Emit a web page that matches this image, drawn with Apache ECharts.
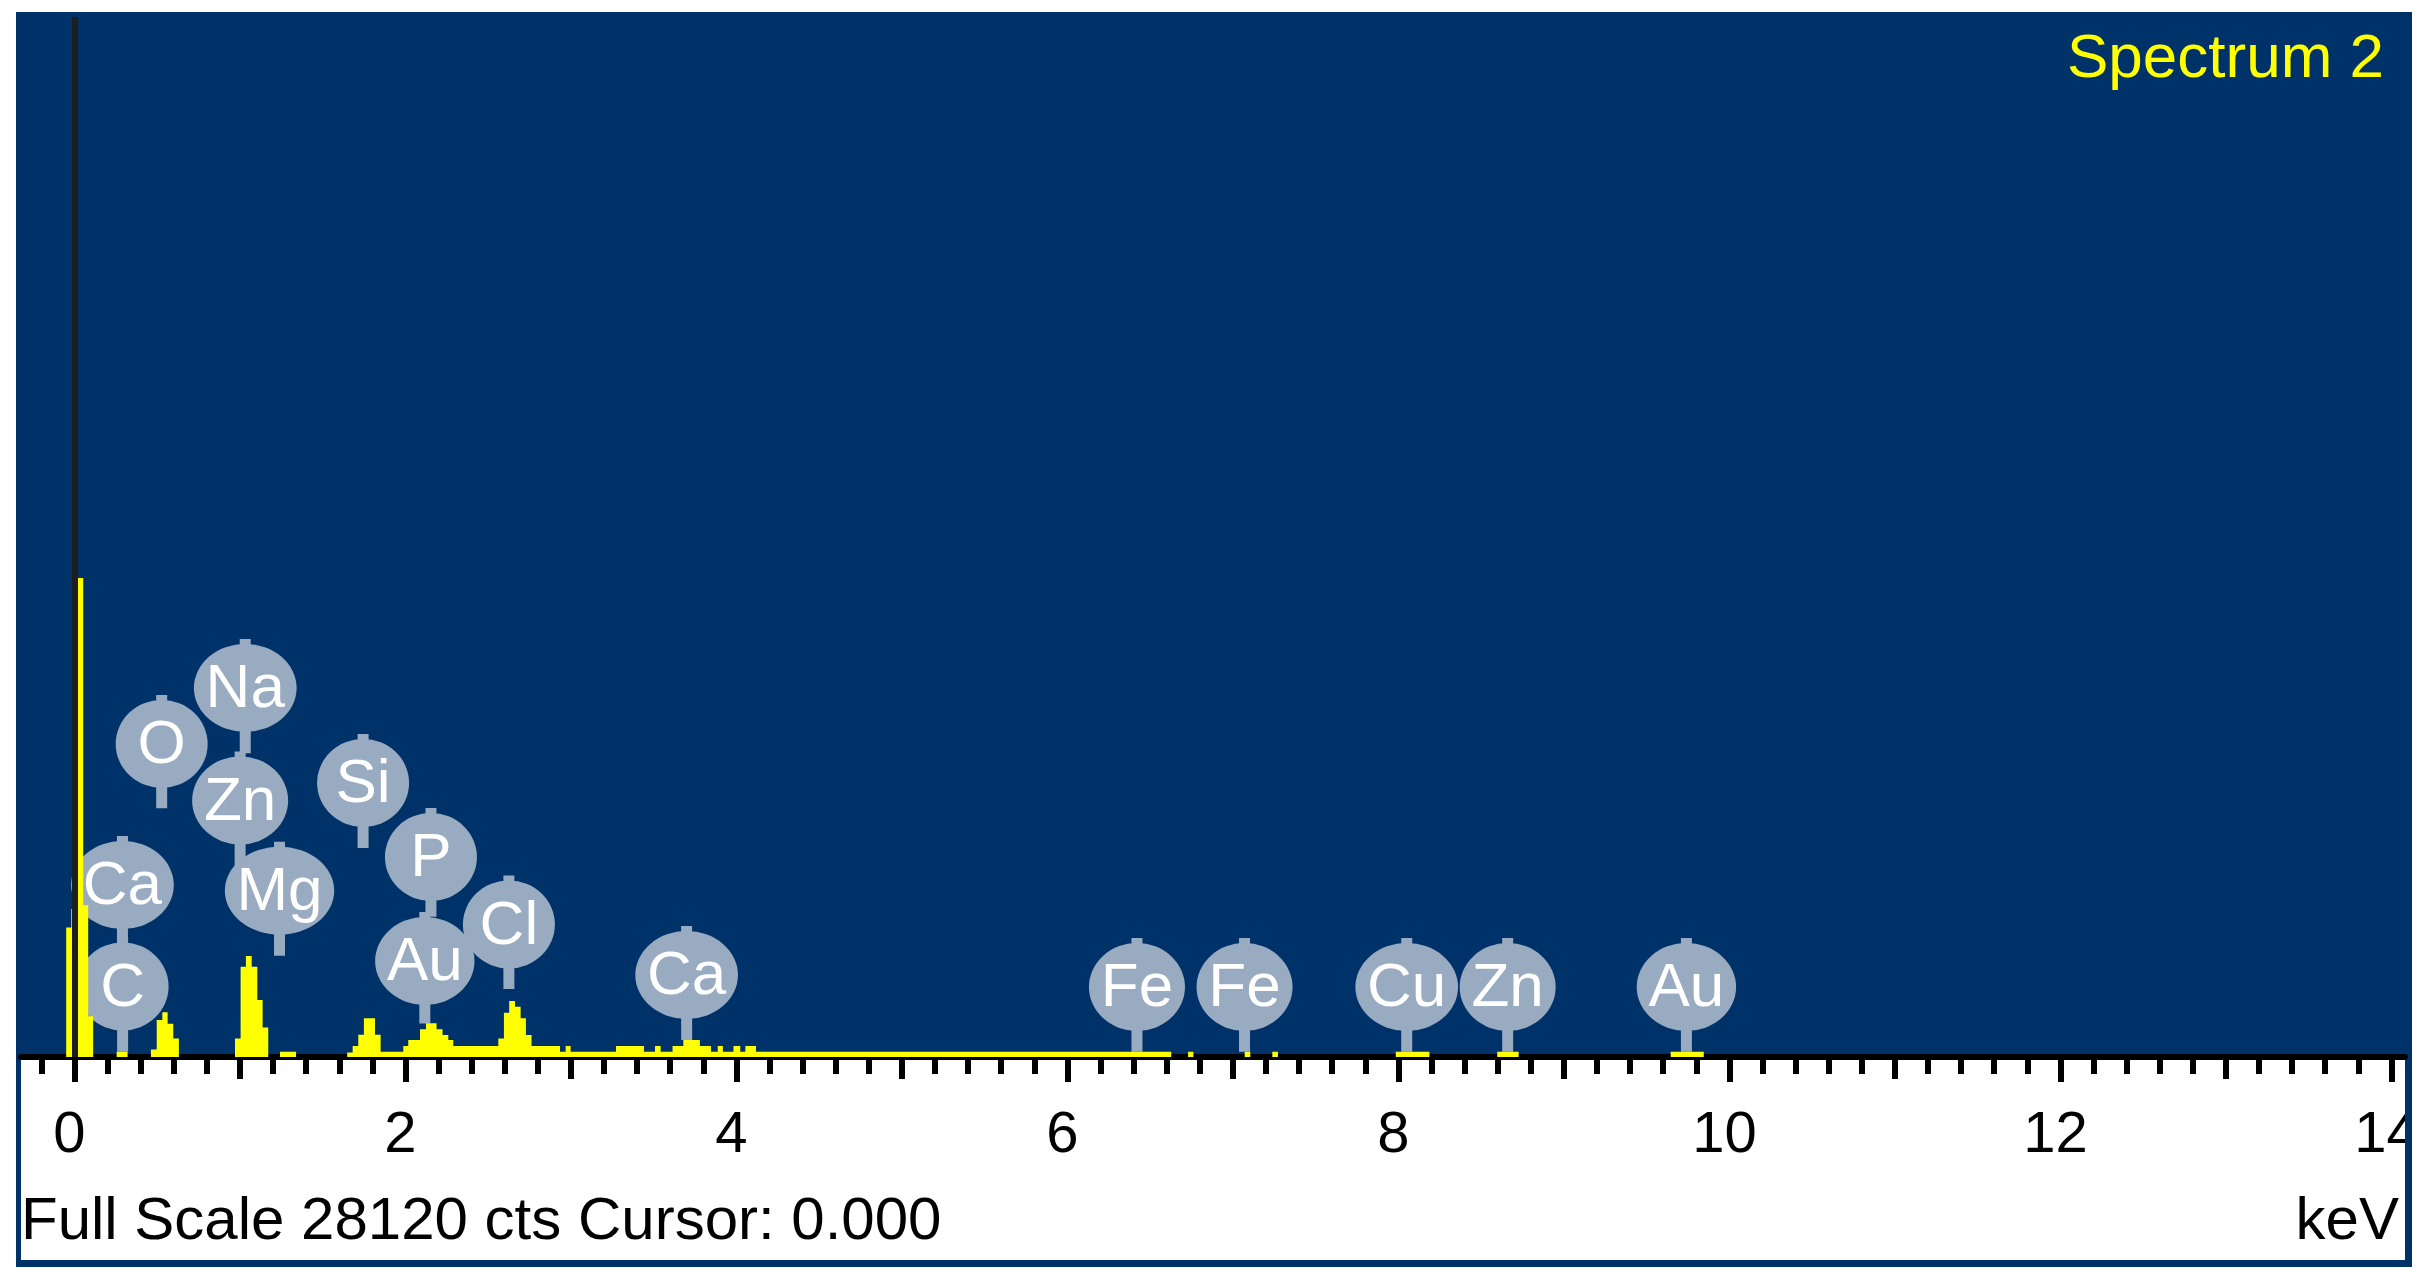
<!DOCTYPE html>
<html>
<head>
<meta charset="utf-8">
<title>Spectrum 2</title>
<script src="https://cdn.jsdelivr.net/npm/echarts@6/dist/echarts.min.js"></script>
<style>
    html, body { margin: 0; padding: 0; background: #fff; }
    #main { width: 2432px; height: 1281px; }
</style>
</head>
<body>
<div id="main"></div>
<script>
    // spectrum bins: edges in keV, counts per bin (one less than edges)
    const edges = [-0.323, -0.05, -0.019, 0.02, 0.053, 0.083, 0.113, 0.255, 0.321, 0.462,
        0.497, 0.531, 0.563, 0.597, 0.631, 0.970, 1.004, 1.036, 1.071, 1.105,
        1.137, 1.171, 1.242, 1.339, 1.648, 1.681, 1.715, 1.749, 1.816, 1.850,
        1.987, 2.017, 2.088, 2.124, 2.188, 2.224, 2.259, 2.289, 2.561, 2.595,
        2.627, 2.662, 2.696, 2.728, 2.762, 2.934, 2.968, 2.998, 3.272, 3.441,
        3.508, 3.542, 3.614, 3.679, 3.779, 3.846, 3.887, 3.918, 3.982, 4.023,
        4.054, 4.118, 6.627, 6.729, 6.761, 7.071, 7.105, 7.238, 7.272, 7.984,
        8.187, 8.597, 8.726, 9.645, 9.845, 14.082]
    const counts = [0, 3500, 4000, 12950, 4100, 1100, 0, 143, 0, 200,
        1000, 1210, 900, 500, 0, 500, 2440, 2730, 2440, 1540,
        800, 0, 143, 0, 120, 300, 600, 1046, 600, 143,
        297, 460, 749, 911, 749, 595, 460, 297, 500, 1199,
        1514, 1361, 1046, 595, 297, 143, 297, 143, 297, 143,
        297, 143, 297, 460, 297, 143, 297, 143, 297, 143,
        297, 143, 0, 143, 0, 143, 0, 143, 0, 143,
        0, 143, 0, 143, 0]

    // element markers
    const labelNames = ['Na', 'O', 'Zn', 'Si', 'P', 'Ca', 'Mg', 'Cl', 'Au', 'C', 'Ca', 'Fe', 'Fe', 'Cu', 'Zn', 'Au']
    const labelKeV = [1.032, 0.527, 1.001, 1.744, 2.154, 0.29, 1.239, 2.625, 2.117, 0.291, 3.699, 6.42, 7.07, 8.05, 8.66, 9.74]
    const labelLevel = [9978, 8464, 6936, 7409, 5408, 4651, 4497, 3583, 2596, 1906, 2217, 1893, 1893, 1893, 1893, 1893]
    const labelStemEnd = [8215, 6725, 5056, 5651, 3791, 3028, 2739, 1839, 903, 143, 460, 143, 143, 143, 143, 143]

    // axis ticks / labels
    const majorTicks = [0, 2, 4, 6, 8, 10, 12, 14]
    const midTicks = [1, 3, 5, 7, 9, 11, 13]
    const minorTicks = []
    for (let k = -1; k <= 70; k++) {
        if (k % 5 !== 0) minorTicks.push(+(k * 0.2).toFixed(1))
    }

    const fullScale = 28120
    const xMin = -0.323
    const xMax = 14.082

    const blue = '#00326a'
    const balloon = '#98abc0'
    const font = '"Liberation Sans", Arial, sans-serif'

    let spectrum = edges.slice(0, -1).map((e, i) => [e, counts[i]])
    spectrum.push([edges[edges.length - 1], 0])

    let markers = labelKeV.map((k, i) => [k, labelLevel[i], labelStemEnd[i]])

    // text width for balloon size
    let ctx = document.createElement('canvas').getContext('2d')
    ctx.font = '60px ' + font
    function textW(t) { return ctx.measureText(t).width }

    function tickAxis(values, len, withLabel) {
        return {
            type: 'value',
            min: xMin,
            max: xMax,
            position: 'bottom',
            offset: 3,
            axisLine: { show: withLabel, lineStyle: { color: '#000', width: 6 } },
            axisTick: { show: true, customValues: values, length: len, lineStyle: { color: '#000', width: 6 } },
            axisLabel: {
                show: withLabel,
                customValues: values,
                formatter: v => String(v),
                color: '#000',
                fontFamily: font,
                fontSize: 58,
                margin: 76,
                verticalAlign: 'middle',
                padding: [0, 10, 0, 0]
            },
            splitLine: { show: false }
        }
    }

    let myChart = echarts.init(document.getElementById('main'))

    myChart.setOption({
        animation: false,
        backgroundColor: '#fff',
        grid: { left: 21, right: 27, top: 17, bottom: 224 },
        xAxis: [
            tickAxis(majorTicks, 25, true),
            tickAxis(midTicks, 19, false),
            tickAxis(minorTicks, 14, false)
        ],
        yAxis: { type: 'value', min: 0, max: fullScale, show: false },
        graphic: [
            { type: 'rect', z: -10, shape: { x: 16, y: 12, width: 2396, height: 1255 }, style: { fill: blue } },
            { type: 'rect', z: -9, shape: { x: 21, y: 1060, width: 2384, height: 200 }, style: { fill: '#fff' } },
            // frame on top so the "14" is cut like in the original
            { type: 'rect', z: 100, shape: { x: 2405, y: 1063, width: 7, height: 204 }, style: { fill: blue } },
            { type: 'rect', z: 100, shape: { x: 2412, y: 0, width: 20, height: 1281 }, style: { fill: '#fff' } },
            {
                type: 'text', z: 101, x: 2384, y: 60,
                style: { text: 'Spectrum 2', fill: '#ffff00', font: '62px ' + font, align: 'right', verticalAlign: 'middle' }
            },
            {
                type: 'text', z: 101, x: 21, y: 1222,
                style: { text: 'Full Scale ' + fullScale + ' cts Cursor: 0.000', fill: '#000', font: '60px ' + font, align: 'left', verticalAlign: 'middle' }
            },
            {
                type: 'text', z: 101, x: 2399, y: 1222,
                style: { text: 'keV', fill: '#000', font: '60px ' + font, align: 'right', verticalAlign: 'middle' }
            }
        ],
        series: [
            {
                type: 'custom',
                z: 1,
                silent: true,
                data: markers,
                encode: { x: 0, y: 1 },
                renderItem: function (params, api) {
                    let name = labelNames[params.dataIndex]
                    let c = api.coord([api.value(0), api.value(1)])
                    let end = api.coord([api.value(0), api.value(2)])
                    let h = 88
                    let w = Math.max(92, textW(name) + 26)
                    let top = c[1] - h / 2 - 5
                    return {
                        type: 'group',
                        children: [
                            { type: 'rect', shape: { x: c[0] - 5.5, y: top, width: 11, height: end[1] - top }, style: { fill: balloon } },
                            { type: 'circle', x: c[0], y: c[1], scaleX: w / h, shape: { cx: 0, cy: 0, r: h / 2 }, style: { fill: balloon } },
                            { type: 'text', x: c[0], y: c[1] + 2, style: { text: name, fill: '#fff', font: '62px ' + font, align: 'center', verticalAlign: 'middle' } }
                        ]
                    }
                }
            },
            {
                type: 'line',
                name: 'Spectrum 2',
                z: 3,
                step: 'end',
                showSymbol: false,
                data: spectrum,
                lineStyle: { width: 0 },
                areaStyle: { color: '#ffff00', opacity: 1 },
                markLine: {
                    silent: true,
                    symbol: 'none',
                    label: { show: false },
                    lineStyle: { color: '#1e1e1e', width: 6, type: 'solid' },
                    data: [{ xAxis: 0 }]
                }
            }
        ]
    })
</script>
</body>
</html>
